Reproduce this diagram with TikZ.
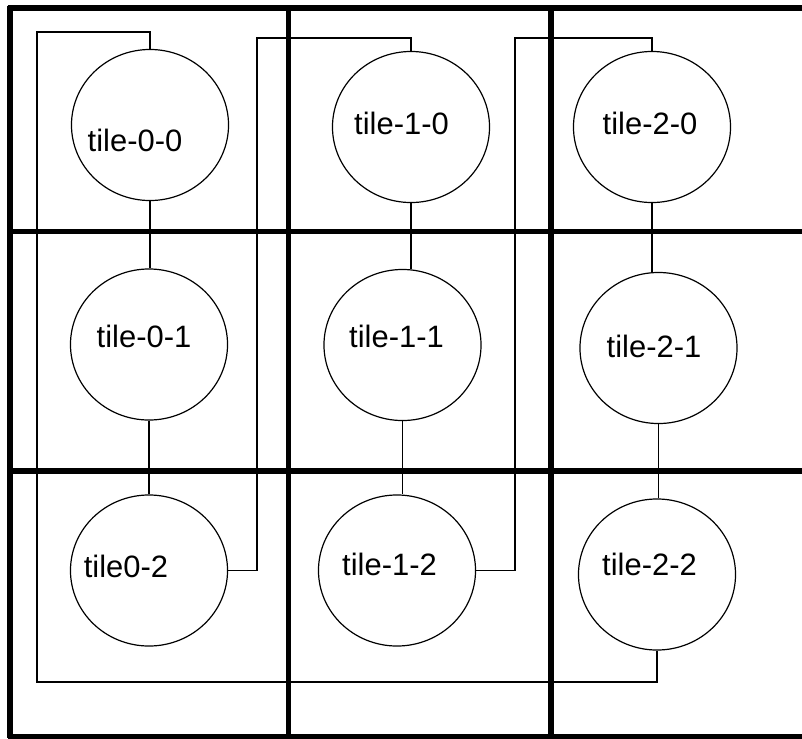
\documentclass[tikz,border=0pt]{standalone}
\usepackage{fontspec}
\setmainfont{Liberation Sans}
\usetikzlibrary{shapes.geometric}

\begin{document}
\begin{tikzpicture}[
  x=0.025cm, y=-0.025cm,
  tile/.style={draw, ellipse, line width=0.85pt, minimum width=3.925cm, minimum height=3.775cm, inner sep=0pt},
  tag/.style={font=\fontsize{22}{26}\selectfont, inner sep=0pt},
  wire/.style={line width=0.85pt},
  gridline/.style={line width=3.9pt}
]
  \useasboundingbox (0,0) rectangle (802,738);

  % thick grid
  \draw[gridline] (10,6) -- (10,738);
  \draw[gridline] (288.5,6) -- (288.5,738);
  \draw[gridline] (551,6) -- (551,738);
  \draw[gridline] (7.5,8) -- (802,8);
  \draw[gridline] (7.5,231.5) -- (802,231.5);
  \draw[gridline] (7.5,471) -- (802,471);
  \draw[gridline] (7.5,736.5) -- (802,736.5);

  % tiles
  \node[tile, label={[tag, shift={(-15,15.5)}]center:tile-0-0}] (t00) at (150,125) {};
  \node[tile, label={[tag, shift={(-9.5,-3.5)}]center:tile-1-0}] (t10) at (411,127) {};
  \node[tile, label={[tag, shift={(-2,-3.5)}]center:tile-2-0}] (t20) at (652,127) {};
  \node[tile, label={[tag, shift={(-5,-8.5)}]center:tile-0-1}] (t01) at (149,344.5) {};
  \node[tile, label={[tag, shift={(-6,-9)}]center:tile-1-1}] (t11) at (402.5,345) {};
  \node[tile, label={[tag, shift={(-4.5,-2)}]center:tile-2-1}] (t21) at (658.5,348) {};
  \node[tile, label={[tag, shift={(-23,-4)}]center:tile0-2}] (t02) at (149,570.5) {};
  \node[tile, label={[tag, shift={(-7.5,-6)}]center:tile-1-2}] (t12) at (397,570.5) {};
  \node[tile, label={[tag, shift={(-7.5,-10.5)}]center:tile-2-2}] (t22) at (657,574.5) {};

  % bends of the wires
  \coordinate (wrapNW) at (37,32);
  \coordinate (wrapSW) at (37,682);
  \coordinate (hopA) at (257,38);
  \coordinate (hopB) at (515,38);

  % columns
  \draw[wire] (t00.south) -- (t00.south |- t01.north);
  \draw[wire] (t01.south) -- (t01.south |- t02.north);
  \draw[wire] (t10.south) -- (t10.south |- t11.north);
  \draw[wire] (t11.south) -- (t11.south |- t12.north);
  \draw[wire] (t20.south) -- (t20.south |- t21.north);
  \draw[wire] (t21.south) -- (t21.south |- t22.north);

  % column to column, and the way back
  \draw[wire] (t02.east) -| (hopA) -| (t10.north);
  \draw[wire] (t12.east) -| (hopB) -| (t20.north);
  \draw[wire] (t00.north) |- (wrapNW) -- (wrapSW) -| (t22.south);
\end{tikzpicture}
\end{document}
